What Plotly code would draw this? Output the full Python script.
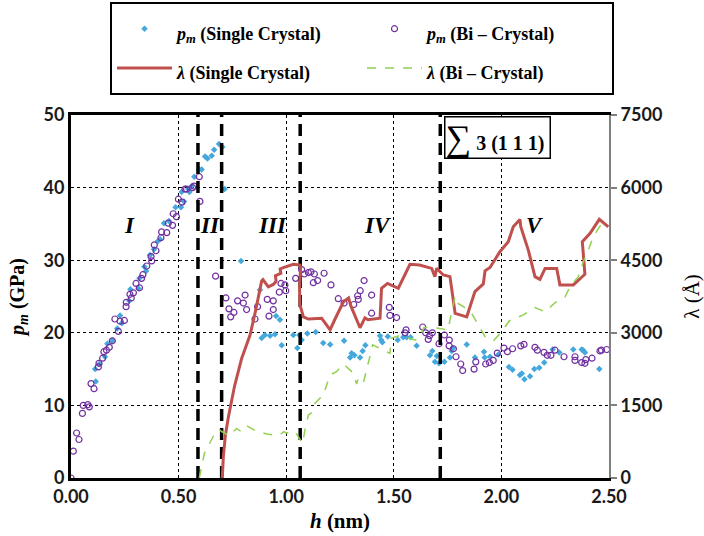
import plotly.graph_objects as go

# ---------------- data ----------------
h_pm_single = [0.112, 0.115, 0.132, 0.158, 0.169, 0.192, 0.215, 0.228, 0.236, 0.271, 0.276, 0.313, 0.318,
               0.341, 0.349, 0.367, 0.386, 0.403, 0.414, 0.432, 0.455, 0.486, 0.511, 0.514, 0.525, 0.545,
               0.550, 0.560, 0.573, 0.596, 0.607, 0.623, 0.634, 0.654, 0.665, 0.688, 0.703, 0.714, 0.790,
               0.878, 0.886, 0.901, 0.925, 0.948, 0.953, 0.971, 0.979, 1.033, 1.052, 1.061, 1.072, 1.098,
               1.137, 1.172, 1.204, 1.269, 1.297, 1.304, 1.317, 1.343, 1.355, 1.368, 1.436, 1.441, 1.447,
               1.472, 1.518, 1.544, 1.560, 1.578, 1.606, 1.668, 1.679, 1.691, 1.700, 1.710, 1.735, 1.761,
               1.769, 1.775, 1.839, 1.877, 1.919, 1.922, 1.947, 1.986, 2.035, 2.052, 2.086, 2.095, 2.107,
               2.133, 2.153, 2.176, 2.199, 2.238, 2.269, 2.334, 2.373, 2.380, 2.388, 2.455]
pm_single = [15.0, 13.3, 15.7, 16.7, 18.5, 18.9, 20.6, 22.4, 21.3, 24.4, 26.0, 26.1, 27.5,
             29.1, 28.5, 30.7, 31.5, 32.6, 32.9, 35.1, 35.4, 37.3, 37.3, 39.4, 38.1, 39.8,
             39.4, 40.2, 41.5, 42.5, 42.5, 44.3, 44.0, 44.4, 45.2, 46.0, 45.6, 39.8, 29.9,
             25.9, 19.3, 19.7, 19.6, 19.8, 22.3, 21.8, 18.3, 19.7, 17.9, 19.7, 19.0, 19.9,
             20.1, 18.6, 18.4, 18.9, 16.6, 17.2, 16.9, 16.6, 17.5, 18.3, 19.6, 19.0, 18.7,
             19.5, 19.0, 19.4, 19.4, 19.4, 18.2, 16.9, 17.5, 16.0, 16.8, 15.8, 16.0, 16.6,
             17.5, 17.9, 18.4, 16.6, 17.4, 16.6, 16.7, 17.0, 15.3, 14.9, 14.2, 14.4, 13.6,
             14.0, 15.0, 15.2, 15.9, 17.7, 17.3, 17.7, 17.7, 17.6, 17.3, 15.0]

h_pm_bi = [0.000, 0.011, 0.026, 0.037, 0.053, 0.057, 0.078, 0.085, 0.093, 0.107, 0.127, 0.130, 0.147,
           0.153, 0.165, 0.178, 0.192, 0.204, 0.220, 0.228, 0.248, 0.256, 0.257, 0.274, 0.280, 0.290,
           0.302, 0.318, 0.328, 0.334, 0.352, 0.372, 0.375, 0.387, 0.395, 0.418, 0.421, 0.445, 0.452,
           0.472, 0.475, 0.490, 0.499, 0.516, 0.530, 0.537, 0.565, 0.572, 0.596, 0.599, 0.672, 0.720,
           0.734, 0.742, 0.757, 0.774, 0.801, 0.809, 0.816, 0.855, 0.867, 0.912, 0.920, 0.940, 0.940,
           0.968, 0.976, 0.994, 0.998, 1.044, 1.072, 1.084, 1.103, 1.115, 1.131, 1.126, 1.146, 1.176,
           1.208, 1.242, 1.269, 1.314, 1.332, 1.335, 1.344, 1.362, 1.397, 1.397, 1.479, 1.482, 1.513,
           1.552, 1.557, 1.634, 1.648, 1.660, 1.666, 1.679, 1.710, 1.735, 1.758, 1.757, 1.777, 1.789,
           1.811, 1.820, 1.873, 1.881, 1.927, 1.944, 1.962, 1.981, 2.012, 2.028, 2.052, 2.090, 2.105,
           2.156, 2.167, 2.198, 2.213, 2.230, 2.249, 2.291, 2.342, 2.342, 2.373, 2.388, 2.392, 2.421,
           2.458, 2.465, 2.489]
pm_bi = [0.0, 3.7, 6.2, 5.3, 8.9, 10.0, 10.1, 9.8, 13.0, 12.3, 15.3, 15.8, 16.5,
         17.4, 17.6, 18.0, 18.9, 21.9, 20.2, 21.6, 21.7, 23.6, 24.2, 25.3, 24.8, 25.5,
         26.8, 26.2, 27.5, 28.0, 29.2, 30.5, 29.9, 32.1, 31.3, 33.1, 33.9, 33.8, 35.1,
         34.8, 36.4, 36.0, 38.4, 38.0, 39.8, 39.8, 40.0, 40.2, 41.5, 38.1, 27.8, 24.8,
         23.3, 22.2, 22.8, 24.4, 24.1, 25.2, 23.2, 21.9, 23.6, 24.6, 22.3, 24.4, 23.2,
         25.6, 26.8, 26.6, 25.8, 27.5, 28.7, 28.1, 28.3, 28.4, 28.1, 26.9, 27.2, 28.2,
         26.6, 24.7, 24.1, 23.9, 25.1, 24.6, 25.8, 27.2, 25.2, 22.7, 23.5, 22.4, 22.1,
         20.0, 20.4, 20.8, 20.0, 19.1, 19.6, 20.0, 18.5, 19.7, 19.0, 18.2, 17.8, 16.7,
         15.7, 14.8, 15.0, 16.0, 15.7, 15.9, 16.2, 17.2, 17.9, 17.4, 17.8, 18.2, 18.4,
         18.0, 17.6, 17.3, 16.9, 16.9, 17.6, 16.7, 16.7, 16.2, 15.9, 15.8, 16.3, 16.5,
         17.5, 17.6, 17.7]

h_lam_single = [0.703, 0.708, 0.718, 0.731, 0.760, 0.793, 0.832, 0.855, 0.886, 0.892, 0.917, 0.940, 0.953,
                0.950, 0.975, 0.972, 0.987, 1.033, 1.064, 1.067, 1.062, 1.064, 1.080, 1.103, 1.165, 1.204,
                1.227, 1.266, 1.290, 1.300, 1.343, 1.366, 1.380, 1.436, 1.443, 1.471, 1.521, 1.575, 1.620,
                1.676, 1.691, 1.699, 1.730, 1.761, 1.785, 1.839, 1.877, 1.916, 1.924, 1.947, 1.993, 2.032,
                2.055, 2.086, 2.090, 2.125, 2.156, 2.179, 2.203, 2.257, 2.272, 2.334, 2.388, 2.376, 2.412,
                2.455, 2.497]
lam_single = [0, 450, 900, 1250, 1900, 2470, 2955, 3400, 4070, 4100, 3950, 4000, 4060,
              4180, 4230, 4320, 4345, 4415, 4400, 4350, 3900, 3575, 3330, 3285, 3300, 3060,
              3285, 3640, 3720, 3560, 3105, 3310, 3270, 3300, 3920, 4020, 3920, 4415, 4400,
              4330, 4160, 4330, 4195, 4160, 3400, 3330, 3850, 4010, 4280, 4350, 4675, 4880,
              5190, 5340, 5190, 4710, 4160, 4105, 4330, 4330, 3990, 3990, 4210, 4880, 5055,
              5345, 5190]

h_lam_bi = [0.596, 0.620, 0.674, 0.692, 0.700, 0.739, 0.745, 0.770, 0.790, 0.816, 0.860, 0.909, 0.963,
            0.990, 1.000, 1.041, 1.076, 1.087, 1.103, 1.120, 1.134, 1.172, 1.204, 1.234, 1.266, 1.312,
            1.327, 1.335, 1.358, 1.402, 1.482, 1.487, 1.521, 1.560, 1.598, 1.620, 1.640, 1.700, 1.753,
            1.761, 1.785, 1.800, 1.823, 1.862, 1.924, 1.962, 2.001, 2.037, 2.102, 2.156, 2.203, 2.249,
            2.296, 2.319, 2.357, 2.381, 2.404, 2.427, 2.458, 2.489]
lam_bi = [0, 510, 970, 990, 960, 870, 920, 1025, 960, 1080, 970, 910, 875,
          960, 930, 960, 715, 990, 1300, 1350, 1545, 1715, 2130, 2195, 2355, 2165,
          1940, 2050, 1955, 2750, 2575, 2885, 2935, 2900, 2850, 2900, 3110, 3100, 3060,
          3265, 3760, 3600, 3540, 3400, 2920, 2830, 3020, 3250, 3370, 3520, 3435, 3620,
          3745, 3950, 4160, 4470, 4710, 4985, 5205, 5260]

stage_bounds = [0.59, 0.70, 1.065, 1.716]
stage_labels = ["I", "II", "III", "IV", "V"]
stage_label_h = [0.274, 0.645, 0.935, 1.425, 2.156]
stage_label_p = 34.8

x_ticks = [0.0, 0.5, 1.0, 1.5, 2.0, 2.5]
y_ticks = [0, 10, 20, 30, 40, 50]
y2_ticks = [0, 1500, 3000, 4500, 6000, 7500]

# ---------------- figure ----------------
SERIF = "Liberation Serif"
SANS = "Lato"


def leg(txt):
    return "<span style='font-size:18px'>%s</span>" % txt


fig = go.Figure()

fig.add_trace(go.Scatter(
    x=h_pm_single, y=pm_single, mode="markers",
    name=leg("<i>p</i><sub><i>m</i></sub> (Single Crystal)"),
    marker=dict(symbol="diamond", size=5, color="#45A8DC", line=dict(width=0)),
))
fig.add_trace(go.Scatter(
    x=h_pm_bi, y=pm_bi, mode="markers",
    name=leg("<i>p</i><sub><i>m</i></sub> (Bi \u2013 Crystal)"),
    marker=dict(symbol="circle-open", size=6, color="#7030A0", line=dict(width=1.2, color="#7030A0")),
))
fig.add_trace(go.Scatter(
    x=h_lam_single, y=lam_single, mode="lines", yaxis="y2",
    name=leg("<i>\u03bb</i> (Single Crystal)"),
    line=dict(color="#C0504D", width=3),
))
fig.add_trace(go.Scatter(
    x=h_lam_bi, y=lam_bi, mode="lines", yaxis="y2",
    name=leg("<i>\u03bb</i> (Bi \u2013 Crystal)"),
    line=dict(color="#92D050", width=1.5, dash="dash"),
))

for b in stage_bounds:
    fig.add_trace(go.Scatter(
        x=[b, b], y=[y_ticks[0], y_ticks[-1]], mode="lines", showlegend=False,
        hoverinfo="skip", line=dict(color="black", width=3.5, dash="12px,7px"),
    ))

annotations = []
for lab, hx in zip(stage_labels, stage_label_h):
    annotations.append(dict(
        x=hx, y=stage_label_p, xref="x", yref="y", text="<b><i>%s</i></b>" % lab,
        showarrow=False, font=dict(family=SERIF, size=23, color="black"),
    ))
annotations.append(dict(
    x=1.984, y=46.9, xref="x", yref="y",
    text="<span style='font-size:36px'>\u2211</span><b> 3 (1 1 1)</b> ",
    showarrow=False, font=dict(family=SERIF, size=20, color="black"),
    bordercolor="black", borderwidth=1.5, borderpad=0, bgcolor="white",
))

fig.update_layout(
    width=704, height=536,
    margin=dict(l=71, r=95, t=115, b=58, autoexpand=False),
    paper_bgcolor="white", plot_bgcolor="white",
    showlegend=True,
    legend=dict(
        orientation="h", xref="container", yref="container",
        x=110 / 704, y=1 - 2 / 536, xanchor="left", yanchor="top",
        bordercolor="black", borderwidth=2, bgcolor="white",
        font=dict(family=SERIF, size=28, color="black", weight="bold"),
        entrywidth=180, entrywidthmode="pixels", itemwidth=55,
    ),
    xaxis=dict(
        range=[0, 2.5], tickvals=x_ticks, ticktext=["%.2f" % v for v in x_ticks],
        showgrid=True, gridcolor="black", griddash="dot", gridwidth=1,
        showline=True, linecolor="black", linewidth=3, mirror=True,
        ticks="", zeroline=False, automargin=False,
        tickfont=dict(family=SANS, size=18, color="#1a1a1a", weight="bold"),
        title=dict(text="<i>h</i> (nm)", font=dict(family=SERIF, size=21, color="black", weight="bold"),
                   standoff=8),
    ),
    yaxis=dict(
        range=[0, 50], tickvals=y_ticks,
        showgrid=True, gridcolor="black", griddash="dot", gridwidth=1,
        showline=True, linecolor="black", linewidth=3,
        ticks="", zeroline=False, automargin=False,
        tickfont=dict(family=SANS, size=18, color="#1a1a1a", weight="bold"),
        title=dict(text="<i>p</i><sub><i>m</i></sub> (GPa)",
                   font=dict(family=SERIF, size=20, color="black", weight="bold"), standoff=14),
    ),
    yaxis2=dict(
        range=[0, 7500], tickvals=y2_ticks, overlaying="y", side="right",
        showgrid=False, zeroline=False, automargin=False,
        showline=True, linecolor="#808080", linewidth=2,
        ticks="outside", ticklen=6, tickcolor="#808080", tickwidth=1.5,
        tickfont=dict(family=SANS, size=18, color="#1a1a1a", weight="bold"),
        title=dict(text="\u03bb (\u00c5)", font=dict(family=SERIF, size=21, color="black"), standoff=23),
    ),
    annotations=annotations,
)

fig.write_html("out.html")
